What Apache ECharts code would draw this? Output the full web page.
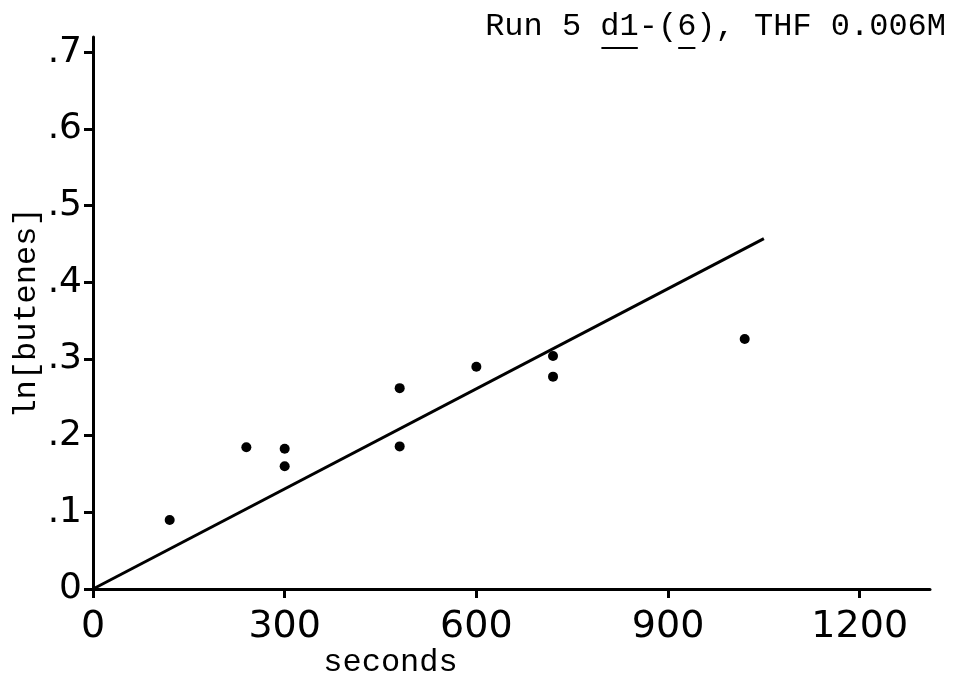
<!DOCTYPE html>
<html>
<head>
<meta charset="utf-8">
<script src="https://cdn.jsdelivr.net/npm/echarts@6/dist/echarts.min.js"></script>
<style>html,body{margin:0;padding:0;background:#fff}#c{width:956px;height:677px}</style>
</head>
<body>
<div id="c"></div>
<script>
// Data
const titleText = 'Run 5 d1-(6), THF 0.006M';
const underlinedRuns = [[6, 8], [10, 11]]; // char index ranges underlined in the title ("d1", "6")
const xName = 'seconds';
const yName = 'ln[butenes]';
const xTicks = [0, 300, 600, 900, 1200];
const yTicks = [0, 0.1, 0.2, 0.3, 0.4, 0.5, 0.6, 0.7];
const pointsX = [120, 240, 300, 300, 480, 480, 600, 720, 720, 1020];
const pointsY = [0.090, 0.185, 0.183, 0.160, 0.262, 0.186, 0.290, 0.304, 0.277, 0.326];
const fitX = [0, 1050];
const fitY = [0, 0.457];

const mono = '"Liberation Mono", "DejaVu Sans Mono", monospace';
const tickFont = '"DejaVu Sans", sans-serif';
const W = 956;
const titleSize = 32;
const titleRight = 10;
const charW = titleSize * 0.6;
const titleLeft = W - titleRight - titleText.length * charW;

const chart = echarts.init(document.getElementById('c'), null, {renderer: 'canvas'});
chart.setOption({
  backgroundColor: '#fff',
  animation: false,
  title: {
    text: titleText,
    right: titleRight,
    top: 11,
    padding: 0,
    textStyle: {fontFamily: mono, fontSize: titleSize, fontWeight: 'normal', color: '#000'}
  },
  graphic: underlinedRuns.map(r => ({
    type: 'rect',
    shape: {x: titleLeft + r[0] * charW + 1, y: 47, width: (r[1] - r[0]) * charW - 2, height: 2},
    style: {fill: '#000'}
  })),
  grid: {left: 93, right: 26, top: 37, bottom: 88, containLabel: false, outerBoundsMode: 'none'},
  xAxis: {
    type: 'value', min: 0, max: 1310, interval: 300,
    name: xName, nameLocation: 'middle', nameGap: 58, nameMoveOverlap: false,
    nameTextStyle: {fontFamily: mono, fontSize: 32, color: '#000', padding: [0, 242, 0, 0]},
    axisLine: {show: true, lineStyle: {color: '#000', width: 3}},
    axisTick: {show: true, length: 9, lineStyle: {color: '#000', width: 3}},
    axisLabel: {
      showMaxLabel: false, margin: 19, color: '#000', fontFamily: tickFont, fontSize: 38,
      formatter: v => xTicks.indexOf(v) >= 0 ? String(v) : ''
    },
    splitLine: {show: false}
  },
  yAxis: {
    type: 'value', min: 0, max: 0.72, interval: 0.1,
    name: yName, nameLocation: 'middle', nameGap: 50, nameRotate: 90, nameMoveOverlap: false,
    nameTextStyle: {fontFamily: mono, fontSize: 32, color: '#000'},
    axisLine: {show: true, lineStyle: {color: '#000', width: 3}},
    axisTick: {show: true, length: 9, lineStyle: {color: '#000', width: 3}},
    axisLabel: {
      showMaxLabel: false, margin: 11, color: '#000', fontFamily: tickFont, fontSize: 36,
      formatter: v => {
        const t = yTicks.find(k => Math.abs(k - v) < 1e-9);
        if (t === undefined) return '';
        return t === 0 ? '0' : t.toFixed(1).replace(/^0/, '');
      }
    },
    splitLine: {show: false}
  },
  series: [
    {
      type: 'line',
      data: fitX.map((x, i) => [x, fitY[i]]),
      showSymbol: false,
      lineStyle: {color: '#000', width: 3},
      z: 2
    },
    {
      type: 'scatter',
      data: pointsX.map((x, i) => [x, pointsY[i]]),
      symbol: 'circle',
      symbolSize: 10,
      itemStyle: {color: '#000', opacity: 1},
      z: 3
    }
  ]
});
</script>
</body>
</html>
